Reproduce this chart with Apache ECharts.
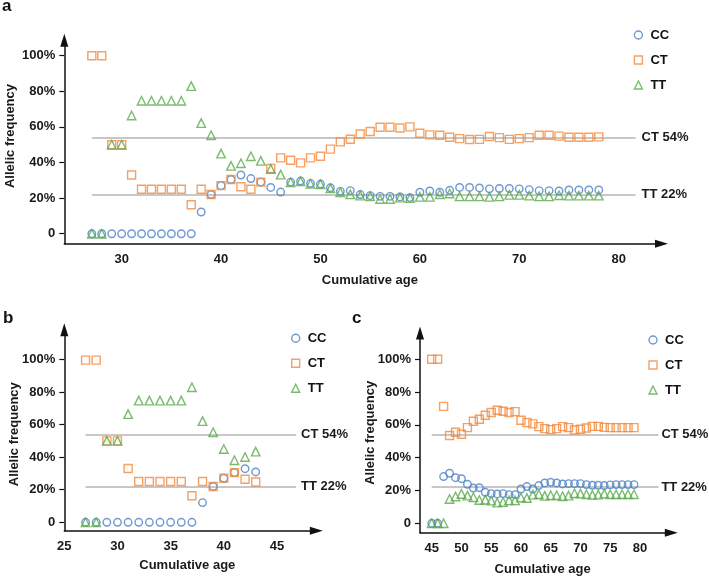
<!DOCTYPE html>
<html>
<head>
<meta charset="utf-8">
<script src="https://cdn.jsdelivr.net/npm/echarts@6/dist/echarts.min.js"></script>
<style>
html,body{margin:0;padding:0;background:#fff;}
#chart{width:709px;height:576px;}
</style>
</head>
<body>
<div id="chart"></div>
<script>
// ---------- Panel a ----------
const agesA = [27,28,29,30,31,32,33,34,35,36,37,38,39,40,41,42,43,44,45,46,47,48,49,50,51,52,53,54,55,56,57,58,59,60,61,62,63,64,65,66,67,68,69,70,71,72,73,74,75,76,77,78];
const ccA = [0,0,0,0,0,0,0,0,0,0,0,12.2,22,27,30.5,33,31,29,26,23.4,29,29.6,28.3,27.9,25.8,23.8,24.2,22,21.4,21,21,20.7,20.3,23.3,24,23.3,24.4,26,26,25.7,25.2,25.4,25.4,25.2,24.8,24.2,24.2,24,24.6,24.6,24.6,24.6];
const ctA = [100,100,50,50,33,25,25,25,25,25,16.3,25,22,27,30.5,26.4,25,29,36.6,42.6,41.3,39.8,42.6,43.5,47.5,51.6,53.1,56,57.4,59.8,59.8,59.4,60,56.4,55.5,55.3,54.2,53.4,52.9,53,54.6,54,53,53.4,54,55.3,55.3,54.8,54.2,54.2,54.2,54.4];
const ttA = [0,0,50,50,66.4,74.7,74.7,74.7,74.7,74.7,82.9,62.1,55.3,45,38.1,39.6,43.5,40.9,36.4,33.2,28.9,29.5,28.1,27.8,25.5,23.3,22.1,21.4,21,19.5,19.5,20.3,20,20.7,20.7,22.2,22.6,21,21,21,20.7,21,21.8,21.8,21.4,21,21,21.6,21.4,21.4,21.4,21.4];
const xTicksA = [30,40,50,60,70,80];

// ---------- Panel b ----------
const agesB = [27,28,29,30,31,32,33,34,35,36,37,38,39,40,41,42,43];
const ccB = [0,0,0,0,0,0,0,0,0,0,0,12.1,22,27,30.5,32.9,30.9];
const ctB = [99.5,99.5,50,50,33,25,25,25,25,25,16.3,25,22,27,30.5,26.4,24.7];
const ttB = [0,0,50,50,66.4,74.7,74.7,74.7,74.7,74.7,82.9,62.1,55.3,45,38.1,40.1,43.4];
const xTicksB = [25,30,35,40,45];

// ---------- Panel c ----------
const agesC = [45,46,47,48,49,50,51,52,53,54,55,56,57,58,59,60,61,62,63,64,65,66,67,68,69,70,71,72,73,74,75,76,77,78,79];
const ccC = [0,0,28.5,30.5,27.8,27.2,23.8,21.5,21.7,18.9,18.1,17.9,18.1,17.5,17.5,20.9,22.4,20.9,23,24.6,25,24.6,24,24.2,24.2,24.2,23.6,23.2,23.2,23,23.4,23.6,23.6,23.6,23.6];
const ctC = [100,100,71.3,53.5,55.5,54.3,58.3,62.2,63.4,65.9,67.5,68.9,68.3,67.5,68.1,62.8,61.4,60.6,58.9,57.7,57.1,57.7,58.9,58.3,56.9,57.3,58.1,59.1,59.1,58.5,58.3,58.3,58.3,58.3,58.3];
const ttC = [0,0,0,14.8,16.3,17.9,16.9,15.9,14.2,14.4,13.8,12.6,13,14,14,15.7,15.4,17.5,17.7,16.7,17.1,17.1,16.5,16.9,18.3,18.1,17.7,17.3,17.5,18.1,17.7,17.7,17.7,17.7,17.7];
const xTicksC = [45,50,55,60,65,70,75,80];

const yTicks = [0,20,40,60,80,100];
const genotypes = ['CC','CT','TT'];
const refLines = [{name:'CT 54%', value:54}, {name:'TT 22%', value:22}];

// ---------- styles ----------
const FONT = '"Liberation Sans", Arial, Helvetica, sans-serif';
const colors = {CC:'#4a80c6', CT:'#f28a3c', TT:'#5aaa4c'};
const symbols = {CC:'circle', CT:'rect', TT:'triangle'};
const symSize = {CC:7.5, CT:8, TT:8.5};

const chart = echarts.init(document.getElementById('chart'), null, {renderer:'canvas'});

const grids = [
  {left:64.3, top:40.3, width:597.2, height:203.4, outerBoundsMode:'none', containLabel:false},
  {left:64.3, top:329.7, width:252, height:201, outerBoundsMode:'none', containLabel:false},
  {left:420, top:333, width:251.3, height:199.7, outerBoundsMode:'none', containLabel:false}
];
const xRanges = [[24.23,84.31],[25,48.7],[43.03,85.27]];
const yRanges = [[-5.6,108.65],[-5.15,118.2],[-5.73,116]];
const xTickSets = [xTicksA, xTicksB, xTicksC];
const refExtents = [[agesA[0],81.7],[agesB[0],46.8],[agesC[0],83.1]];
const refLabelDist = [6, 5, 3];
const panelData = [[agesA,ccA,ctA,ttA],[agesB,ccB,ctB,ttB],[agesC,ccC,ctC,ttC]];

const axisLine = {
  onZero:false,
  lineStyle:{color:'#111', width:1.5},
  symbol:['none','triangle'],
  symbolSize:[8,13]
};
const labelStyle = {color:'#1a1a1a', fontFamily:FONT, fontWeight:'bold', fontSize:13};

const xAxes = [], yAxes = [], series = [], legends = [];
const xNamePad = [[0,0,0,14],[0,6,0,0],[0,6,0,0]];
const yNamePad = [[0,0,0,12],[0,8,0,0],[0,0,0,0]];
const yNameGap = [47, 43, 43.5];

for (let i = 0; i < 3; i++) {
  xAxes.push({
    type:'value', gridIndex:i, min:xRanges[i][0], max:xRanges[i][1],
    axisLine:axisLine, splitLine:{show:false},
    axisTick:{show:false},
    axisLabel:Object.assign({customValues:xTickSets[i], margin:9}, labelStyle),
    name:'Cumulative age', nameLocation:'middle', nameGap:i===0?30:i===1?28:30,
    nameMoveOverlap:false,
    nameTextStyle:Object.assign({padding:xNamePad[i]}, labelStyle)
  });
  yAxes.push({
    type:'value', gridIndex:i, min:yRanges[i][0], max:yRanges[i][1],
    axisLine:axisLine, splitLine:{show:false},
    axisTick:{show:true, customValues:yTicks, length:5, lineStyle:{color:'#111', width:1.2}},
    axisLabel:Object.assign({customValues:yTicks, margin:9,
      formatter:v => v === 0 ? '0' : v + '%'}, labelStyle),
    name:'Allelic frequency', nameLocation:'middle', nameGap:yNameGap[i],
    nameMoveOverlap:false,
    nameTextStyle:Object.assign({padding:yNamePad[i]}, labelStyle)
  });
  const [ages, cc, ct, tt] = panelData[i];
  const vals = {CC:cc, CT:ct, TT:tt};
  genotypes.forEach((g, k) => {
    const s = {
      name:g, type:'scatter', xAxisIndex:i, yAxisIndex:i,
      symbol:symbols[g], symbolSize:symSize[g],
      itemStyle:{color:'rgba(255,255,255,0)', borderColor:colors[g], borderWidth:1.4},
      data:ages.map((a, j) => [a, vals[g][j]]),
      silent:true, z:3+k
    };
    if (k === 0) {
      s.markLine = {
        silent:true, symbol:['none','none'],
        lineStyle:{color:'#b5b5b5', width:1.5, type:'solid'},
        label:{show:true, position:'end', distance:refLabelDist[i], color:'#1a1a1a', fontFamily:FONT, fontWeight:'bold', fontSize:13,
               formatter:p => p.name},
        data:refLines.map(r => [
          {name:r.name, coord:[refExtents[i][0], r.value]},
          {coord:[refExtents[i][1], r.value]}
        ]),
        z:1
      };
    }
    series.push(s);
  });
}

const legendPos = [{left:633.7, top:28},{left:291, top:331.3},{left:648.3, top:333}];
for (let i = 0; i < 3; i++) {
  legends.push({
    left:legendPos[i].left, top:legendPos[i].top, orient:'vertical',
    padding:0,
    itemWidth:8, itemHeight:8, itemGap:11,
    selectedMode:false,
    textStyle:{color:'#111', fontFamily:FONT, fontWeight:'bold', fontSize:13, lineHeight:14, padding:[0,0,0,3]},
    data:genotypes.map(g => ({name:g, icon:symbols[g],
      itemStyle:{color:'rgba(255,255,255,0)', borderColor:colors[g], borderWidth:1.4}}))
  });
}

chart.setOption({
  animation:false,
  backgroundColor:'#fff',
  grid:grids,
  xAxis:xAxes,
  yAxis:yAxes,
  legend:legends,
  series:series,
  graphic:[
    {type:'text', left:2, top:-2, style:{text:'a', fontFamily:FONT, fontWeight:'bold', fontSize:17, fill:'#111'}},
    {type:'text', left:3, top:310, style:{text:'b', fontFamily:FONT, fontWeight:'bold', fontSize:17, fill:'#111'}},
    {type:'text', left:352, top:310, style:{text:'c', fontFamily:FONT, fontWeight:'bold', fontSize:17, fill:'#111'}}
  ]
});
</script>
</body>
</html>
